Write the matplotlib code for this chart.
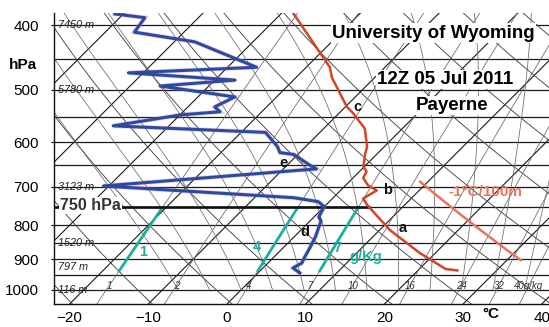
import numpy as np
import matplotlib
matplotlib.use("Agg")
import matplotlib.pyplot as plt

plt.rcParams['font.family'] = ['Liberation Sans', 'DejaVu Sans']

# ---------------- data ----------------
temp_p = [381, 463, 480, 531, 542, 572, 609, 625, 653, 664, 679, 697, 709, 729, 745, 813, 880, 930, 935]
temp_t = [-29.0, -17.0, -15.4, -9.8, -8.3, -4.8, -2.2, -1.5, -0.1, 0.9, 1.3, 2.9, 4.6, 3.9, 5.2, 11.3, 18.0, 23.3, 25.0]

dew_p = [385, 390, 410, 424, 463, 472, 484, 494, 513, 531, 540, 546, 567, 580, 609, 622, 626, 649, 658,
         698, 727, 737, 750, 777, 788, 832, 865, 892, 911, 927, 943]
dew_t = [-51.1, -46.8, -46.3, -37.4, -26.3, -41.9, -27.4, -36.2, -25.3, -26.6, -25.3, -30.0, -37.1, -16.9,
         -13.6, -12.5, -10.5, -7.2, -5.8, -30.7, -5.0, -1.4, 0.0, 0.6, 1.4, 2.7, 3.4, 3.9, 4.3, 3.8, 5.3]

p_ticks = [400, 500, 600, 700, 800, 900, 1000]
t_ticks = [-20, -10, 0, 10, 20, 30, 40]
isobars = [400, 450, 500, 550, 600, 650, 700, 750, 800, 850, 900, 950, 1000]
height_p = [400, 500, 700, 850, 925, 1000]
height_m = ["7450 m", "5780 m", "3123 m", "1520 m", "797 m", "116 m"]
mix_w = [1, 2, 4, 7, 10, 16, 24, 32, 40]
mix_labels = ["1", "2", "4", "7", "10", "16", "24", "32", "40g/kg"]
green_w = [1, 4, 7]
green_p = (940, 750)
adiabat_theta = 314.0          # K, the "-1°C/100m" line
adiabat_p = (688, 902)
level_750 = 750
letters = ["a", "b", "c", "d", "e"]

# ---------------- geometry ----------------
W, H = 549, 327
P_BOT = 1050.0
X_LEFT_PX, Y_BOT_PX, Y_TOP_PX = 54, 304, 13
PX_PER_C = 7.87
SKEW = 289.0 / PX_PER_C   # 45 degree isotherms


def sx(t, p):
    return np.asarray(t, float) + SKEW * np.log(P_BOT / np.asarray(p, float))


def fpos(x, y):
    return x / W, 1 - y / H


fig = plt.figure(figsize=(W / 100, H / 100), dpi=100)
ax = fig.add_axes([X_LEFT_PX / W, (H - Y_BOT_PX) / H, (W - X_LEFT_PX) / W, (Y_BOT_PX - Y_TOP_PX) / H])
xmin = (X_LEFT_PX - 227) / PX_PER_C
xmax = (W - 227) / PX_PER_C
ptop = 400 * np.exp((Y_TOP_PX - 25) / 289.0)
ax.set_yscale('log')
ax.set_ylim(P_BOT, ptop)
ax.set_xlim(xmin, xmax)

pp = np.geomspace(P_BOT, 370, 300)

# isobars
for p in isobars:
    ax.plot([xmin, xmax], [p, p], color='#1a1a1a', lw=0.9, zorder=1)

# isotherms
for t in range(-110, 50, 10):
    ax.plot(sx(t, pp), pp, color='#1a1a1a', lw=0.8, zorder=1)

# dry adiabats
for th in range(250, 470, 10):
    tt = th * (pp / 1000.0) ** 0.2857 - 273.15
    ax.plot(sx(tt, pp), pp, color='#444444', lw=0.65, zorder=1)

# moist adiabats
Rd, Cp, Lv, eps = 287.04, 1005.7, 2.501e6, 0.622


def moist(t0):
    ps = np.geomspace(1000, 370, 400)
    T = t0 + 273.15
    out = [T]
    for i in range(1, len(ps)):
        p = ps[i - 1]
        tc = T - 273.15
        es = 6.112 * np.exp(17.67 * tc / (tc + 243.5))
        rs = eps * es / (p - es)
        dTdp = (Rd * T + Lv * rs) / (p * (Cp + Lv ** 2 * rs * eps / (Rd * T ** 2)))
        T = T + dTdp * (ps[i] - p)
        out.append(T)
    return ps, np.array(out) - 273.15


for t0 in range(-8, 40, 4):
    ps, ts = moist(t0)
    ax.plot(sx(ts, ps), ps, color='#6a6a6a', lw=0.55, zorder=1)


# mixing ratio lines
def td_from_w(w, p):
    e = w * p / (622.0 + w)
    a = np.log(e / 6.112)
    return 243.5 * a / (17.67 - a)


pm = np.geomspace(P_BOT, 370, 100)
for w, lab in zip(mix_w, mix_labels):
    ax.plot(sx(td_from_w(w, pm), pm), pm, color='#666666', lw=0.55, zorder=1)
    ax.text(float(sx(td_from_w(w, 985.0), 985.0)), 985, lab, fontsize=7, style='italic',
            color='#333333', ha='center', va='center', zorder=2)

# highlighted mixing ratio lines (green)
pg = np.geomspace(green_p[0], green_p[1], 30)
for w in green_w:
    ax.plot(sx(td_from_w(w, pg), pg), pg, color='#1fae9e', lw=2.0, zorder=3, solid_capstyle='butt')

# -1°C/100m dry adiabat
pa = np.geomspace(adiabat_p[0], adiabat_p[1], 30)
ta = adiabat_theta * (pa / 1000.0) ** 0.2857 - 273.15
ax.plot(sx(ta, pa), pa, color='#e8735e', lw=1.8, zorder=3)

# 750 hPa thick line up to temperature profile
t750 = np.interp(level_750, temp_p, temp_t)
x750 = float(sx(t750, level_750))
ax.plot([xmin, x750], [level_750, level_750], color='#111111', lw=1.9, zorder=3)

# profiles
ax.plot(sx(dew_t, dew_p), dew_p, color='#c070c8', lw=3.2, alpha=0.35, zorder=4, solid_joinstyle='miter')
ax.plot(sx(dew_t, dew_p), dew_p, color='#2b4c9e', lw=2.2, zorder=5)
ax.plot(sx(temp_t, temp_p), temp_p, color='#d2452a', lw=1.8, zorder=5)

# axes styling
ax.set_yticks(p_ticks)
ax.set_yticklabels([str(p) for p in p_ticks], fontsize=11)
ax.yaxis.set_minor_locator(matplotlib.ticker.NullLocator())
ax.set_xticks(t_ticks)
ax.set_xticklabels(["\u2212" + str(-t) if t < 0 else str(t) for t in t_ticks], fontsize=11)
ax.tick_params(axis='y', length=2, pad=9)
ax.tick_params(axis='x', length=0, pad=5)
for s in ['top', 'right']:
    ax.spines[s].set_visible(False)
for s in ['left', 'bottom']:
    ax.spines[s].set_linewidth(1.0)
    ax.spines[s].set_color('#111111')

# height labels
for p, lab in zip(height_p, height_m):
    ax.text(xmin + 0.5, p, lab, fontsize=7.8, color='#222222', ha='left', va='center', zorder=2,
            style='italic')

# texts
wb = dict(facecolor='white', edgecolor='none', pad=1.0)
fig.text(*fpos(23, 65), "hPa", fontsize=11, fontweight='bold', ha='center', va='center')
fig.text(*fpos(491, 314), "°C", fontsize=11, fontweight='bold', ha='center', va='center')
fig.text(*fpos(433.5, 37.5), "University of Wyoming", fontsize=13.5, fontweight='bold',
         ha='center', va='baseline', bbox=wb, zorder=6)
fig.text(*fpos(445, 84), "12Z 05 Jul 2011", fontsize=13.5, fontweight='bold',
         ha='center', va='baseline', bbox=wb, zorder=6)
fig.text(*fpos(452.5, 110), "Payerne", fontsize=13.5, fontweight='bold',
         ha='center', va='baseline', bbox=wb, zorder=6)
fig.text(*fpos(60, 205.5), "750 hPa", fontsize=11.5, fontweight='bold', color='#333333',
         ha='left', va='center', bbox=dict(facecolor='white', edgecolor='none', pad=0.5), zorder=6)
fig.text(*fpos(485, 192), "-1°C/100m", fontsize=11, fontweight='bold', color='#e8735e',
         ha='center', va='center')

green = '#1fae9e'
for s, (x, y) in zip(["1", "4", "7"], [(143, 252), (257, 247), (337, 248)]):
    fig.text(*fpos(x, y), s, fontsize=10.5, fontweight='bold', color=green, ha='center', va='center')
fig.text(*fpos(366, 257), "g/Kg", fontsize=10.5, fontweight='bold', color=green, ha='center', va='center')

for s, (x, y) in zip(letters, [(403, 228), (388, 190), (357, 107), (305, 232), (284, 163)]):
    fig.text(*fpos(x, y), s, fontsize=10.5, fontweight='bold', color='#111111', ha='center', va='center')

fig.savefig("out.png", dpi=100)
